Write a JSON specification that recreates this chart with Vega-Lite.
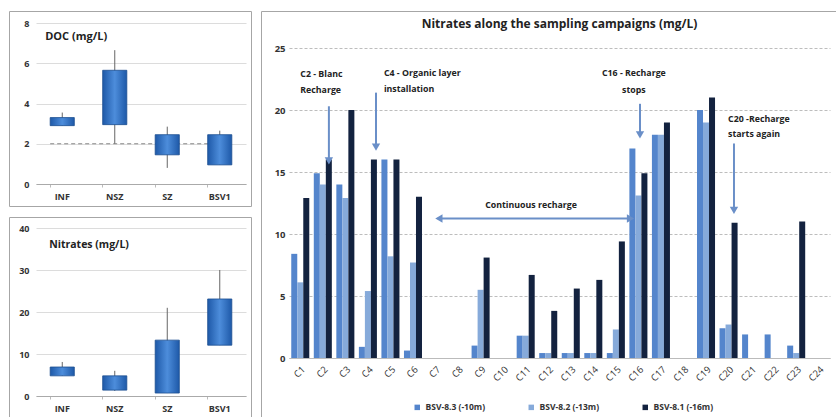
{
  "$schema": "https://vega.github.io/schema/vega-lite/v6.json",
  "padding": {"left": 8, "top": 10, "right": 0, "bottom": 0},
  "background": "white",
  "spacing": 8,
  "resolve": {"scale": {"color": "independent", "shape": "independent"}, "legend": {"color": "independent", "shape": "independent"}},
  "config": {
    "font": "Open Sans",
    "view": {"stroke": "#a6a6a6", "strokeWidth": 1},
    "axis": {"labelFont": "Open Sans", "labelFontWeight": "bold", "labelColor": "#333", "gridColor": "#d0d0d0", "domainColor": "#bbb", "tickColor": "#bbb"},
    "legend": {"labelFont": "Open Sans", "labelFontWeight": "bold", "labelColor": "#333"}
  },
  "datasets": {
    "doc": [
      {"cat": "INF", "lo": 2.9, "q1": 2.9, "q3": 3.3, "hi": 3.55},
      {"cat": "NSZ", "lo": 2.0, "q1": 2.95, "q3": 5.65, "hi": 6.65},
      {"cat": "SZ", "lo": 0.8, "q1": 1.45, "q3": 2.45, "hi": 2.85},
      {"cat": "BSV1", "lo": 0.95, "q1": 0.95, "q3": 2.45, "hi": 2.65}
    ],
    "nit": [
      {"cat": "INF", "lo": 4.8, "q1": 4.8, "q3": 6.9, "hi": 8.1},
      {"cat": "NSZ", "lo": 1.2, "q1": 1.4, "q3": 4.8, "hi": 6.0},
      {"cat": "SZ", "lo": 0.7, "q1": 0.7, "q3": 13.3, "hi": 21},
      {"cat": "BSV1", "lo": 12.1, "q1": 12.1, "q3": 23.1, "hi": 30}
    ],
    "bars": [
      {"c": "C1", "s": "BSV-8.3 (-10m)", "v": 8.4}, {"c": "C1", "s": "BSV-8.2 (-13m)", "v": 6.1}, {"c": "C1", "s": "BSV-8.1 (-16m)", "v": 12.9},
      {"c": "C2", "s": "BSV-8.3 (-10m)", "v": 14.9}, {"c": "C2", "s": "BSV-8.2 (-13m)", "v": 14.0}, {"c": "C2", "s": "BSV-8.1 (-16m)", "v": 16.0},
      {"c": "C3", "s": "BSV-8.3 (-10m)", "v": 14.0}, {"c": "C3", "s": "BSV-8.2 (-13m)", "v": 12.9}, {"c": "C3", "s": "BSV-8.1 (-16m)", "v": 20.0},
      {"c": "C4", "s": "BSV-8.3 (-10m)", "v": 0.9}, {"c": "C4", "s": "BSV-8.2 (-13m)", "v": 5.4}, {"c": "C4", "s": "BSV-8.1 (-16m)", "v": 16.0},
      {"c": "C5", "s": "BSV-8.3 (-10m)", "v": 16.0}, {"c": "C5", "s": "BSV-8.2 (-13m)", "v": 8.2}, {"c": "C5", "s": "BSV-8.1 (-16m)", "v": 16.0},
      {"c": "C6", "s": "BSV-8.3 (-10m)", "v": 0.6}, {"c": "C6", "s": "BSV-8.2 (-13m)", "v": 7.7}, {"c": "C6", "s": "BSV-8.1 (-16m)", "v": 13.0},
      {"c": "C9", "s": "BSV-8.3 (-10m)", "v": 1.0}, {"c": "C9", "s": "BSV-8.2 (-13m)", "v": 5.5}, {"c": "C9", "s": "BSV-8.1 (-16m)", "v": 8.1},
      {"c": "C11", "s": "BSV-8.3 (-10m)", "v": 1.8}, {"c": "C11", "s": "BSV-8.2 (-13m)", "v": 1.8}, {"c": "C11", "s": "BSV-8.1 (-16m)", "v": 6.7},
      {"c": "C12", "s": "BSV-8.3 (-10m)", "v": 0.4}, {"c": "C12", "s": "BSV-8.2 (-13m)", "v": 0.4}, {"c": "C12", "s": "BSV-8.1 (-16m)", "v": 3.8},
      {"c": "C13", "s": "BSV-8.3 (-10m)", "v": 0.4}, {"c": "C13", "s": "BSV-8.2 (-13m)", "v": 0.4}, {"c": "C13", "s": "BSV-8.1 (-16m)", "v": 5.6},
      {"c": "C14", "s": "BSV-8.3 (-10m)", "v": 0.4}, {"c": "C14", "s": "BSV-8.2 (-13m)", "v": 0.4}, {"c": "C14", "s": "BSV-8.1 (-16m)", "v": 6.3},
      {"c": "C15", "s": "BSV-8.3 (-10m)", "v": 0.4}, {"c": "C15", "s": "BSV-8.2 (-13m)", "v": 2.3}, {"c": "C15", "s": "BSV-8.1 (-16m)", "v": 9.4},
      {"c": "C16", "s": "BSV-8.3 (-10m)", "v": 16.9}, {"c": "C16", "s": "BSV-8.2 (-13m)", "v": 13.1}, {"c": "C16", "s": "BSV-8.1 (-16m)", "v": 14.9},
      {"c": "C17", "s": "BSV-8.3 (-10m)", "v": 18.0}, {"c": "C17", "s": "BSV-8.2 (-13m)", "v": 18.0}, {"c": "C17", "s": "BSV-8.1 (-16m)", "v": 19.0},
      {"c": "C19", "s": "BSV-8.3 (-10m)", "v": 20.0}, {"c": "C19", "s": "BSV-8.2 (-13m)", "v": 19.0}, {"c": "C19", "s": "BSV-8.1 (-16m)", "v": 21.0},
      {"c": "C20", "s": "BSV-8.3 (-10m)", "v": 2.4}, {"c": "C20", "s": "BSV-8.2 (-13m)", "v": 2.7}, {"c": "C20", "s": "BSV-8.1 (-16m)", "v": 10.9},
      {"c": "C21", "s": "BSV-8.3 (-10m)", "v": 1.9},
      {"c": "C22", "s": "BSV-8.3 (-10m)", "v": 1.9},
      {"c": "C23", "s": "BSV-8.3 (-10m)", "v": 1.0}, {"c": "C23", "s": "BSV-8.2 (-13m)", "v": 0.4}, {"c": "C23", "s": "BSV-8.1 (-16m)", "v": 11.0}
    ],
    "annLeft": [
      {"x": 1.0, "y": 22.9, "t": "C2 - Blanc"},
      {"x": 1.0, "y": 21.6, "t": "Recharge"},
      {"x": 4.71, "y": 23.0, "t": "C4 - Organic layer"},
      {"x": 4.71, "y": 21.7, "t": "installation"},
      {"x": 19.98, "y": 19.3, "t": "C20 -Recharge"},
      {"x": 19.98, "y": 18.1, "t": "starts again"}
    ],
    "annMid": [
      {"x": 11.24, "y": 12.3, "t": "Continuous  recharge"},
      {"x": 15.8, "y": 23.0, "t": "C16 - Recharge"},
      {"x": 15.8, "y": 21.6, "t": "stops"}
    ],
    "vArrows": [
      {"x": 2.27, "y": 20.3, "y2": 15.9},
      {"x": 4.36, "y": 21.4, "y2": 17.0},
      {"x": 16.07, "y": 20.5, "y2": 18.0},
      {"x": 20.24, "y": 17.3, "y2": 11.9}
    ],
    "hArrows": [
      {"x": 7.25, "x2": 15.55, "y": 11.25}
    ],
    "heads": [
      {"x": 2.27, "y": 15.9, "d": "down"},
      {"x": 4.36, "y": 17.0, "d": "down"},
      {"x": 16.07, "y": 18.0, "d": "down"},
      {"x": 20.24, "y": 11.9, "d": "down"},
      {"x": 7.15, "y": 11.25, "d": "left"},
      {"x": 15.65, "y": 11.25, "d": "right"}
    ]
  },
  "hconcat": [
    {
      "spacing": 9,
      "vconcat": [
        {
          "width": 242,
          "height": 195,
          "data": {"name": "doc"},
          "layer": [
            {"data": {"values": [{"y": 2}]}, "mark": {"type": "rule", "color": "#888", "strokeDash": [4, 3], "strokeWidth": 1},
              "encoding": {
                "x": {"datum": "INF", "type": "nominal", "bandPosition": 0, "scale": {"domain": ["INF", "NSZ", "SZ", "BSV1"], "range": [27, 237], "paddingInner": 0.54, "paddingOuter": 0.27},
                  "axis": {"title": null, "labelAngle": 0, "labelFontSize": 9, "labelPadding": 5, "ticks": true, "tickSize": 3, "bandPosition": 0, "domainColor": "#aaa", "offset": -22}},
                "x2": {"datum": "BSV1"},
                "y": {"field": "y", "type": "quantitative", "scale": {"domain": [0, 8], "range": [173, 12]}, "axis": {"title": null, "values": [0, 2, 4, 6, 8], "labelFontSize": 9, "ticks": false, "domain": false, "labelPadding": 7, "gridColor": "#dcdcdc", "offset": -27}}}},
            {"mark": {"type": "rule", "color": "#666", "strokeWidth": 1},
              "encoding": {"x": {"field": "cat", "type": "nominal"}, "y": {"field": "lo", "type": "quantitative"}, "y2": {"field": "hi"}}},
            {"mark": {"type": "bar", "stroke": "#1d4f91", "strokeWidth": 0.8, "color": {"gradient": "linear", "x1": 0, "x2": 1, "y1": 0, "y2": 0, "stops": [{"offset": 0, "color": "#1e59a8"}, {"offset": 0.5, "color": "#4d8ddb"}, {"offset": 1, "color": "#1e59a8"}]}},
              "encoding": {"x": {"field": "cat", "type": "nominal"}, "y": {"field": "q1", "type": "quantitative"}, "y2": {"field": "q3"}}},
            {"data": {"values": [{"cat": "INF", "y": 7.3, "t": "DOC (mg/L)"}]}, "mark": {"type": "text", "align": "left", "baseline": "middle", "fontSize": 11, "fontWeight": "bold", "color": "#222", "dx": -5},
              "encoding": {"x": {"field": "cat", "type": "nominal", "bandPosition": 0}, "y": {"field": "y", "type": "quantitative"}, "text": {"field": "t"}}}
          ]
        },
        {
          "width": 242,
          "height": 206,
          "data": {"name": "nit"},
          "layer": [
            {"mark": {"type": "rule", "color": "#666", "strokeWidth": 1},
              "encoding": {
                "x": {"field": "cat", "type": "nominal", "scale": {"domain": ["INF", "NSZ", "SZ", "BSV1"], "range": [27, 237], "paddingInner": 0.54, "paddingOuter": 0.27},
                  "axis": {"title": null, "labelAngle": 0, "labelFontSize": 9, "labelPadding": 5, "ticks": true, "tickSize": 3, "bandPosition": 0, "domainColor": "#aaa", "offset": -27}},
                "y": {"field": "lo", "type": "quantitative", "scale": {"domain": [0, 40], "range": [179, 11]}, "axis": {"title": null, "values": [0, 10, 20, 30, 40], "labelFontSize": 9, "ticks": false, "domain": false, "labelPadding": 7, "gridColor": "#dcdcdc", "offset": -27}}, "y2": {"field": "hi"}}},
            {"mark": {"type": "bar", "stroke": "#1d4f91", "strokeWidth": 0.8, "color": {"gradient": "linear", "x1": 0, "x2": 1, "y1": 0, "y2": 0, "stops": [{"offset": 0, "color": "#1e59a8"}, {"offset": 0.5, "color": "#4d8ddb"}, {"offset": 1, "color": "#1e59a8"}]}},
              "encoding": {"x": {"field": "cat", "type": "nominal"}, "y": {"field": "q1", "type": "quantitative"}, "y2": {"field": "q3"}}},
            {"data": {"values": [{"cat": "INF", "y": 36, "t": "Nitrates (mg/L)"}]}, "mark": {"type": "text", "align": "left", "baseline": "middle", "fontSize": 10.5, "fontWeight": "bold", "color": "#222", "dx": -1},
              "encoding": {"x": {"field": "cat", "type": "nominal", "bandPosition": 0}, "y": {"field": "y", "type": "quantitative"}, "text": {"field": "t"}}}
          ]
        }
      ]
    },
    {
      "width": 577,
      "height": 408,
      "resolve": {"scale": {"x": "independent"}, "axis": {"x": "independent"}},
      "layer": [
        {
          "data": {"name": "bars"},
          "mark": {"type": "bar"},
          "encoding": {
            "x": {"field": "c", "type": "nominal", "scale": {"domain": ["C1","C2","C3","C4","C5","C6","C7","C8","C9","C10","C11","C12","C13","C14","C15","C16","C17","C18","C19","C20","C21","C22","C23","C24"], "range": [28, 569], "paddingInner": 0.2, "paddingOuter": 0.1},
              "axis": {"title": null, "labelAngle": -45, "labelFontSize": 9.5, "labelFontWeight": "normal", "ticks": false, "labelPadding": 6, "domainColor": "#bbb", "offset": -61}},
            "xOffset": {"field": "s", "type": "nominal", "scale": {"domain": ["BSV-8.3 (-10m)", "BSV-8.2 (-13m)", "BSV-8.1 (-16m)"], "paddingInner": 0}},
            "y": {"field": "v", "type": "quantitative", "scale": {"domain": [0, 25], "range": [347, 37], "nice": false}, "axis": {"title": null, "values": [0, 5, 10, 15, 20, 25], "labelFontSize": 9.5, "ticks": false, "domain": false, "labelPadding": 4, "gridDash": [3, 2], "gridColor": "#bdbdbd", "offset": -28}},
            "color": {"field": "s", "type": "nominal", "sort": ["BSV-8.3 (-10m)", "BSV-8.2 (-13m)", "BSV-8.1 (-16m)"],
              "scale": {"domain": ["BSV-8.3 (-10m)", "BSV-8.2 (-13m)", "BSV-8.1 (-16m)"], "range": ["#5485cc", "#86aada", "#13223f"]},
              "legend": {"title": null, "orient": "none", "legendX": 152, "legendY": 392, "direction": "horizontal", "symbolType": "square", "symbolSize": 30, "labelFontSize": 8.5, "columnPadding": 41}}
          }
        },
        {
          "layer": [
            {
              "data": {"name": "vArrows"},
              "mark": {"type": "rule", "color": "#6a8fc8", "strokeWidth": 2},
              "encoding": {
                "x": {"field": "x", "type": "quantitative", "scale": {"domain": [0.5, 24.5], "range": [28, 569], "nice": false, "zero": false}, "axis": null},
                "y": {"field": "y", "type": "quantitative"},
                "y2": {"field": "y2"}
              }
            },
            {
              "data": {"name": "hArrows"},
              "mark": {"type": "rule", "color": "#6a8fc8", "strokeWidth": 2},
              "encoding": {
                "x": {"field": "x", "type": "quantitative", "axis": null},
                "x2": {"field": "x2"},
                "y": {"field": "y", "type": "quantitative"}
              }
            },
            {
              "data": {"name": "heads"},
              "mark": {"type": "point", "filled": true, "color": "#6a8fc8", "size": 70, "opacity": 1},
              "encoding": {
                "x": {"field": "x", "type": "quantitative", "axis": null},
                "y": {"field": "y", "type": "quantitative"},
                "shape": {"field": "d", "type": "nominal", "scale": {"domain": ["down", "left", "right"], "range": ["triangle-down", "triangle-left", "triangle-right"]}, "legend": null}
              }
            },
            {
              "data": {"name": "annLeft"},
              "mark": {"type": "text", "align": "left", "baseline": "middle", "fontSize": 8.8, "fontWeight": "bold", "color": "#222"},
              "encoding": {
                "x": {"field": "x", "type": "quantitative", "axis": null},
                "y": {"field": "y", "type": "quantitative"},
                "text": {"field": "t"}
              }
            },
            {
              "data": {"name": "annMid"},
              "mark": {"type": "text", "align": "center", "baseline": "middle", "fontSize": 8.8, "fontWeight": "bold", "color": "#222"},
              "encoding": {
                "x": {"field": "x", "type": "quantitative", "axis": null},
                "y": {"field": "y", "type": "quantitative"},
                "text": {"field": "t"}
              }
            },
            {
              "data": {"values": [{"x": 12.5, "y": 26.9, "t": "Nitrates along the sampling campaigns (mg/L)"}]},
              "mark": {"type": "text", "align": "center", "baseline": "middle", "fontSize": 12, "fontWeight": "bold", "color": "#222"},
              "encoding": {
                "x": {"field": "x", "type": "quantitative", "axis": null},
                "y": {"field": "y", "type": "quantitative"},
                "text": {"field": "t"}
              }
            }
          ]
        }
      ]
    }
  ]
}
